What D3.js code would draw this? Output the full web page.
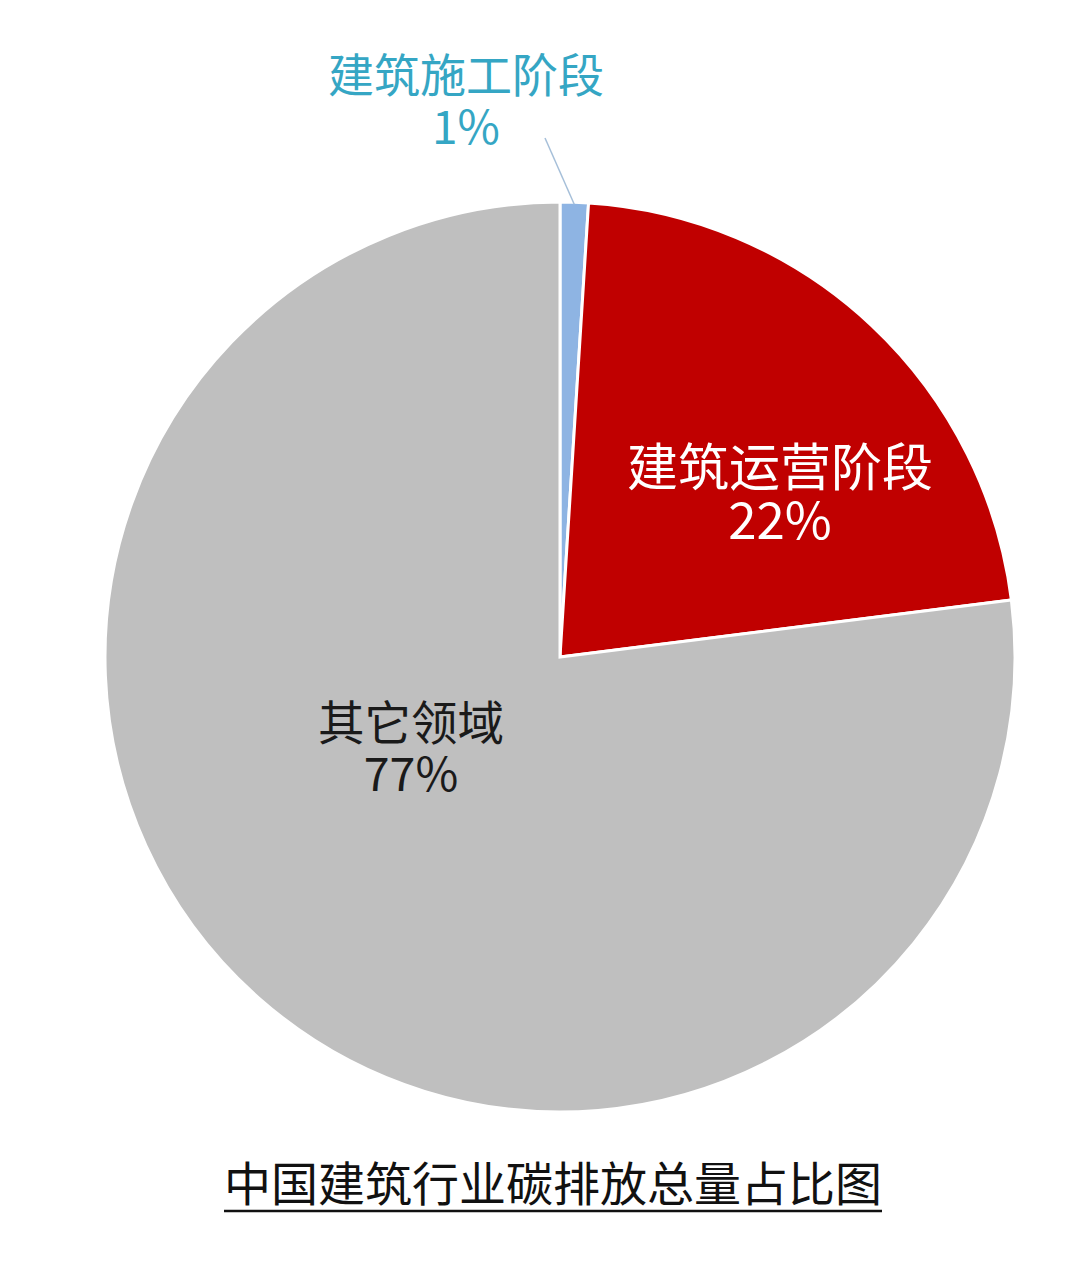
<!DOCTYPE html>
<html><head><meta charset="utf-8">
<script src="https://cdn.jsdelivr.net/npm/d3@7"></script>
<style>
html,body{margin:0;padding:0;background:#fff;}
svg{display:block;font-family:"Noto Sans CJK SC","Noto Sans",sans-serif;}
</style></head>
<body>
<script>
const categories = ["建筑施工阶段", "建筑运营阶段", "其它领域"];
const values = [1, 22, 77];
const percentLabels = ["1%", "22%", "77%"];
const title = "中国建筑行业碳排放总量占比图";

const W = 1079, H = 1280;
const cx = 560, cy = 657, R = 455;
const colors = ["#8eb4e3", "#c00000", "#bfbfbf"];
const labelColors = ["#35a6c4", "#ffffff", "#1a1a1a"];

const svg = d3.select("body").append("svg").attr("width", W).attr("height", H);
const g = svg.append("g").attr("transform", `translate(${cx},${cy})`);

const pie = d3.pie().sort(null).value(d => d).startAngle(0).endAngle(2 * Math.PI);
const arcs = pie(values);
const arc = d3.arc().innerRadius(0).outerRadius(R);

g.selectAll("path.slice").data(arcs).enter().append("path")
  .attr("class", "slice")
  .attr("d", arc)
  .attr("fill", (d, i) => colors[i])
  .attr("stroke", "#fff")
  .attr("stroke-width", 3)
  .attr("stroke-linejoin", "miter");

// label placements (offsets from pie centre)
const labelPos = [
  {x: -94, y1: -565, y2: -513, size: 46},
  {x: 220, y1: -171, y2: -118, size: 51},
  {x: -149, y1: 83, y2: 134, size: 46.5}
];

// leader line for small slice
const a0 = arcs[0];
const mid = (a0.startAngle + a0.endAngle) / 2;
const edge = [Math.sin(mid) * (R - 2), -Math.cos(mid) * (R - 2)];
g.append("line")
  .attr("x1", -15).attr("y1", -519)
  .attr("x2", edge[0]).attr("y2", edge[1])
  .attr("stroke", "#a6bfd9").attr("stroke-width", 1.5);

arcs.forEach((d, i) => {
  const p = labelPos[i];
  g.append("text").attr("text-anchor", "middle")
    .attr("fill", labelColors[i]).attr("font-size", p.size)
    .attr("x", p.x).attr("y", p.y1).text(categories[i]);
  g.append("text").attr("text-anchor", "middle")
    .attr("fill", labelColors[i]).attr("font-size", p.size)
    .attr("x", p.x).attr("y", p.y2).text(percentLabels[i]);
});

svg.append("text").attr("x", 553).attr("y", 1201)
  .attr("text-anchor", "middle").attr("font-size", 47).attr("fill", "#111")
  .text(title);
svg.append("line").attr("x1", 224).attr("x2", 882).attr("y1", 1211).attr("y2", 1211)
  .attr("stroke", "#111").attr("stroke-width", 2.5);
</script>
</body></html>
